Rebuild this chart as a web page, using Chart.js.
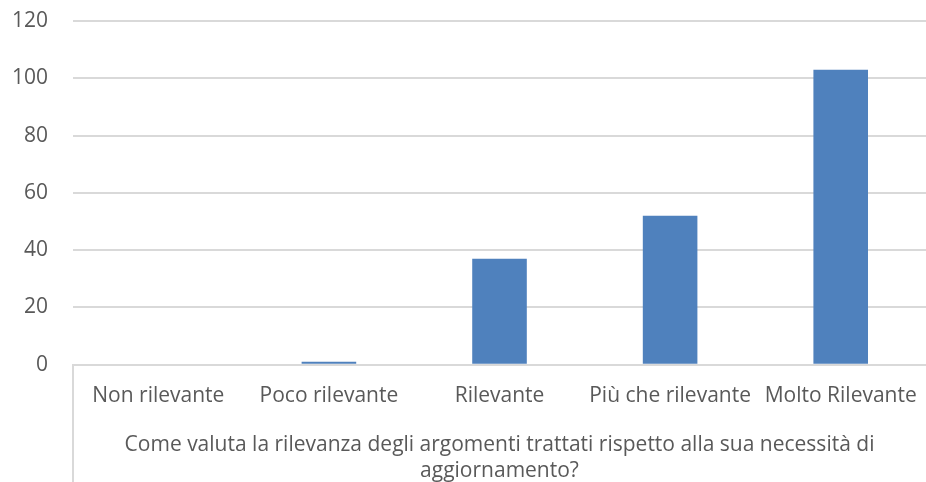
<!DOCTYPE html>
<html>
<head>
<meta charset="utf-8">
<script src="https://cdn.jsdelivr.net/npm/chart.js@4/dist/chart.umd.min.js"></script>
<style>
  html, body { margin: 0; padding: 0; background: #fff; }
  #chart { display: block; }
</style>
</head>
<body>
<canvas id="chart" width="926" height="482"></canvas>
<script>
const categories = ["Non rilevante", "Poco rilevante", "Rilevante", "Più che rilevante", "Molto Rilevante"];
const counts = [0, 1, 37, 52, 103];
const axisTitle = ["Come valuta la rilevanza degli argomenti trattati rispetto alla sua necessità di", "aggiornamento?"];

const textColor = "#595959";
const gridColor = "#d9d9d9";
const fontFamily = "Open Sans";

// linea verticale a sinistra sotto l'asse (come in Excel)
const leftDivider = {
    id: "leftDivider",
    afterDraw(chart) {
        const c = chart.ctx;
        const area = chart.chartArea;
        c.save();
        c.strokeStyle = gridColor;
        c.lineWidth = 2;
        c.beginPath();
        c.moveTo(Math.round(area.left), area.bottom);
        c.lineTo(Math.round(area.left), chart.height);
        c.stroke();
        c.restore();
    }
};

// niente spazio extra per le etichette che sporgono, lo gestisce layout.padding
function noOverflow(scale) {
    scale.paddingTop = 0;
    scale.paddingBottom = 0;
    scale.paddingLeft = 0;
    scale.paddingRight = 0;
}

let ctx = document.getElementById("chart").getContext("2d");

let chart = new Chart(ctx, {
    type: "bar",
    data: {
        labels: categories,
        datasets: [{
            data: counts,
            backgroundColor: "#4f81bd",
            borderWidth: 0,
            barPercentage: 0.32,
            categoryPercentage: 1.0
        }]
    },
    options: {
        responsive: false,
        animation: false,
        layout: { padding: { top: 21, right: 0, left: -13, bottom: -2 } },
        plugins: {
            legend: { display: false },
            tooltip: { enabled: false }
        },
        scales: {
            x: {
                afterFit: noOverflow,
                grid: { display: false },
                border: { color: gridColor, width: 2 },
                ticks: { color: textColor, font: { family: fontFamily, size: 21 }, padding: 11, maxRotation: 0 },
                title: {
                    display: true,
                    text: axisTitle,
                    color: textColor,
                    font: { family: fontFamily, size: 21, lineHeight: 1.24 },
                    padding: { top: 12, bottom: 0 }
                }
            },
            y: {
                afterFit: noOverflow,
                min: 0,
                max: 120,
                ticks: { stepSize: 20, color: textColor, font: { family: fontFamily, size: 21 }, padding: 25 },
                grid: { color: gridColor, lineWidth: 2, drawTicks: false },
                border: { display: false }
            }
        }
    },
    plugins: [leftDivider]
});
</script>
</body>
</html>
